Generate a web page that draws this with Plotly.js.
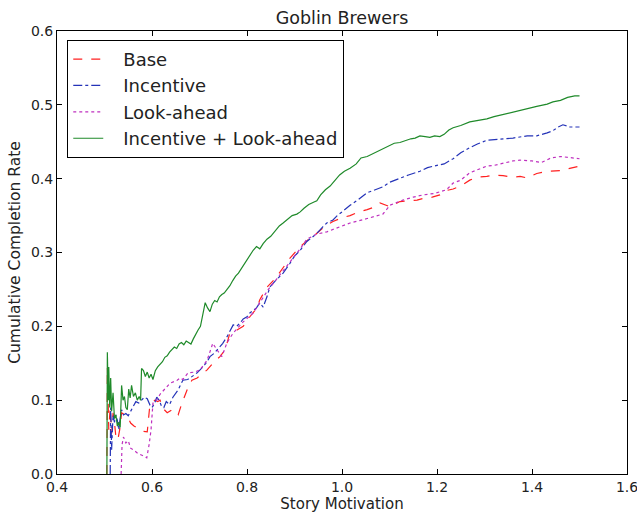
<!DOCTYPE html>
<html>
<head>
<meta charset="utf-8">
<script src="https://cdn.plot.ly/plotly-3.0.1.min.js"></script>
<style>html,body{margin:0;padding:0;background:#fff;}#chart{width:637px;height:513px;}</style>
</head>
<body>
<div id="chart"></div>
<script>
const seriesNames = ["Base", "Incentive", "Look-ahead", "Incentive + Look-ahead"];

const baseX = [0.505,0.506,0.509,0.512,0.515,0.518,0.521,0.524,0.528,0.532,0.536,0.542,0.548,0.555,0.562,0.57,0.58,0.59,0.595,0.6,0.606,0.612,0.617,0.623,0.632,0.642,0.648,0.655,0.663,0.674,0.684,0.695,0.705,0.716,0.728,0.743,0.754,0.764,0.779,0.792,0.806,0.821,0.827,0.842,0.86,0.876,0.89,0.912,0.93,0.947,0.965,0.981,1.0,1.017,1.035,1.053,1.07,1.08,1.09,1.101,1.122,1.14,1.158,1.175,1.19,1.206,1.22,1.234,1.25,1.269,1.285,1.305,1.32,1.339,1.36,1.375,1.39,1.41,1.432,1.46,1.48,1.5];
const baseY = [0.0,0.145,0.06,0.09,0.055,0.083,0.07,0.05,0.046,0.06,0.083,0.08,0.078,0.069,0.065,0.062,0.058,0.057,0.09,0.096,0.1,0.098,0.1,0.089,0.083,0.087,0.082,0.08,0.096,0.114,0.127,0.13,0.135,0.141,0.15,0.159,0.168,0.191,0.195,0.2,0.213,0.225,0.236,0.253,0.265,0.279,0.292,0.308,0.318,0.326,0.336,0.342,0.347,0.35,0.355,0.358,0.362,0.367,0.365,0.362,0.369,0.37,0.371,0.374,0.375,0.378,0.384,0.386,0.39,0.398,0.402,0.403,0.405,0.404,0.402,0.403,0.401,0.407,0.41,0.411,0.414,0.417];

const incX = [0.512,0.513,0.515,0.518,0.521,0.524,0.527,0.53,0.533,0.536,0.54,0.545,0.55,0.555,0.56,0.566,0.572,0.578,0.584,0.59,0.596,0.6,0.605,0.61,0.615,0.62,0.625,0.63,0.637,0.644,0.65,0.655,0.665,0.675,0.68,0.69,0.695,0.707,0.716,0.722,0.73,0.737,0.749,0.758,0.765,0.771,0.778,0.785,0.792,0.8,0.806,0.813,0.82,0.827,0.834,0.842,0.848,0.86,0.876,0.89,0.9,0.912,0.926,0.94,0.947,0.96,0.968,0.981,0.99,1.0,1.017,1.035,1.053,1.07,1.086,1.1,1.122,1.14,1.164,1.18,1.2,1.215,1.234,1.25,1.269,1.285,1.305,1.339,1.36,1.39,1.41,1.432,1.444,1.455,1.465,1.48,1.5];
const incY = [0.0,0.09,0.033,0.08,0.07,0.08,0.073,0.06,0.075,0.087,0.08,0.082,0.079,0.085,0.091,0.098,0.096,0.1,0.104,0.102,0.093,0.09,0.095,0.104,0.1,0.092,0.09,0.098,0.094,0.104,0.11,0.114,0.127,0.128,0.13,0.135,0.137,0.145,0.152,0.159,0.163,0.168,0.177,0.186,0.195,0.202,0.2,0.204,0.21,0.213,0.218,0.222,0.225,0.232,0.226,0.24,0.253,0.262,0.272,0.285,0.295,0.303,0.315,0.322,0.326,0.335,0.34,0.344,0.35,0.355,0.364,0.372,0.381,0.385,0.389,0.395,0.401,0.405,0.41,0.415,0.418,0.42,0.427,0.435,0.442,0.447,0.452,0.454,0.455,0.458,0.458,0.462,0.465,0.47,0.473,0.47,0.47];

const lookX = [0.535,0.537,0.54,0.545,0.55,0.555,0.56,0.57,0.58,0.589,0.594,0.598,0.602,0.61,0.617,0.625,0.638,0.653,0.659,0.665,0.676,0.69,0.701,0.716,0.728,0.737,0.747,0.758,0.771,0.792,0.813,0.827,0.845,0.86,0.876,0.895,0.912,0.926,0.947,0.968,0.99,1.017,1.053,1.086,1.101,1.128,1.15,1.171,1.195,1.22,1.234,1.25,1.269,1.29,1.305,1.32,1.339,1.36,1.375,1.4,1.42,1.44,1.46,1.48,1.5];
const lookY = [0.0,0.04,0.05,0.042,0.045,0.035,0.033,0.028,0.025,0.022,0.04,0.06,0.096,0.1,0.108,0.114,0.123,0.127,0.13,0.128,0.137,0.138,0.141,0.154,0.177,0.168,0.159,0.178,0.191,0.206,0.218,0.232,0.25,0.262,0.275,0.29,0.305,0.318,0.325,0.328,0.333,0.34,0.346,0.352,0.364,0.371,0.375,0.378,0.38,0.385,0.394,0.398,0.408,0.413,0.417,0.418,0.421,0.424,0.425,0.424,0.422,0.428,0.43,0.428,0.427];

const bothX = [0.505,0.506,0.508,0.509,0.511,0.513,0.515,0.518,0.521,0.524,0.527,0.53,0.533,0.536,0.539,0.542,0.545,0.548,0.551,0.554,0.557,0.561,0.565,0.569,0.573,0.576,0.578,0.582,0.586,0.59,0.594,0.598,0.602,0.607,0.612,0.617,0.622,0.627,0.632,0.637,0.642,0.647,0.652,0.657,0.662,0.667,0.672,0.677,0.682,0.687,0.692,0.697,0.702,0.707,0.712,0.717,0.722,0.727,0.732,0.737,0.742,0.747,0.752,0.758,0.764,0.77,0.776,0.782,0.788,0.794,0.8,0.806,0.813,0.82,0.827,0.834,0.842,0.85,0.86,0.868,0.876,0.885,0.895,0.905,0.912,0.92,0.93,0.94,0.947,0.955,0.965,0.975,0.985,0.995,1.005,1.017,1.03,1.04,1.053,1.065,1.075,1.086,1.1,1.11,1.122,1.135,1.145,1.154,1.164,1.175,1.185,1.195,1.206,1.215,1.225,1.234,1.25,1.269,1.285,1.305,1.32,1.339,1.355,1.375,1.39,1.41,1.432,1.444,1.46,1.475,1.49,1.5];
const bothY = [0.0,0.165,0.1,0.145,0.09,0.13,0.085,0.11,0.075,0.08,0.065,0.07,0.063,0.12,0.1,0.105,0.09,0.087,0.115,0.103,0.12,0.105,0.11,0.1,0.105,0.1,0.143,0.14,0.132,0.138,0.13,0.135,0.128,0.14,0.145,0.148,0.152,0.158,0.16,0.165,0.168,0.172,0.17,0.176,0.178,0.175,0.18,0.178,0.176,0.183,0.19,0.195,0.2,0.215,0.232,0.225,0.22,0.23,0.235,0.233,0.24,0.243,0.245,0.25,0.255,0.262,0.268,0.272,0.278,0.285,0.29,0.296,0.303,0.308,0.305,0.312,0.318,0.322,0.33,0.336,0.34,0.345,0.35,0.352,0.355,0.36,0.365,0.368,0.37,0.378,0.385,0.39,0.397,0.405,0.41,0.414,0.42,0.428,0.43,0.434,0.437,0.44,0.445,0.448,0.449,0.452,0.454,0.455,0.458,0.457,0.456,0.458,0.457,0.46,0.466,0.469,0.472,0.477,0.479,0.481,0.484,0.487,0.49,0.493,0.495,0.498,0.501,0.504,0.506,0.51,0.512,0.512];

const xTicks = [0.4, 0.6, 0.8, 1.0, 1.2, 1.4, 1.6];
const yTicks = [0.0, 0.1, 0.2, 0.3, 0.4, 0.5, 0.6];

const FONT = "DejaVu Sans, sans-serif";
const GAP = "\u00a0\u00a0\u2009";
function tr(x, y, i, color, dash) {
  return {
    x: x, y: y, name: GAP + seriesNames[i], type: "scatter", mode: "lines",
    line: {color: color, width: 1.2, dash: dash},
    hoverinfo: "skip"
  };
}
const data = [
  tr(baseX, baseY, 0, "#ff2020", "dash"),
  tr(incX, incY, 1, "#2433b8", "dashdot"),
  tr(lookX, lookY, 2, "#bf30bf", "dot"),
  tr(bothX, bothY, 3, "#1f8a2a", "solid")
];

const axisCommon = {
  showgrid: false, zeroline: false, showline: true, mirror: "ticks",
  linecolor: "#000", linewidth: 1, ticks: "inside", ticklen: 5,
  tickcolor: "#000", tickfont: {family: FONT, size: 14, color: "#222"},
  tickformat: ".1f", ticklabeloverflow: "allow"
};

const layout = {
  width: 637, height: 513,
  margin: {l: 57, r: 10, t: 31, b: 39},
  paper_bgcolor: "#fff", plot_bgcolor: "#fff",
  font: {family: FONT, color: "#222"},
  title: {text: "Goblin Brewers", font: {family: FONT, size: 17.5, color: "#222"}, x: 0.537, xanchor: "center", y: 0.965, yanchor: "middle"},
  xaxis: Object.assign({}, axisCommon, {
    range: [0.4, 1.6], tickvals: xTicks,
    title: {text: "Story Motivation", font: {family: FONT, size: 15, color: "#222"}, standoff: 3}
  }),
  yaxis: Object.assign({}, axisCommon, {
    range: [0, 0.6], tickvals: yTicks,
    title: {text: "Cumulative Completion Rate", font: {family: FONT, size: 15.5, color: "#222"}, standoff: 6}
  }),
  showlegend: true,
  legend: {
    x: 0.018, y: 0.98, xanchor: "left", yanchor: "top",
    bgcolor: "#fff", bordercolor: "#000", borderwidth: 1,
    font: {family: FONT, size: 18, color: "#222"},
    itemwidth: 30, traceorder: "normal"
  }
};

Plotly.newPlot("chart", data, layout, {displayModeBar: false, staticPlot: true});
</script>
</body>
</html>
